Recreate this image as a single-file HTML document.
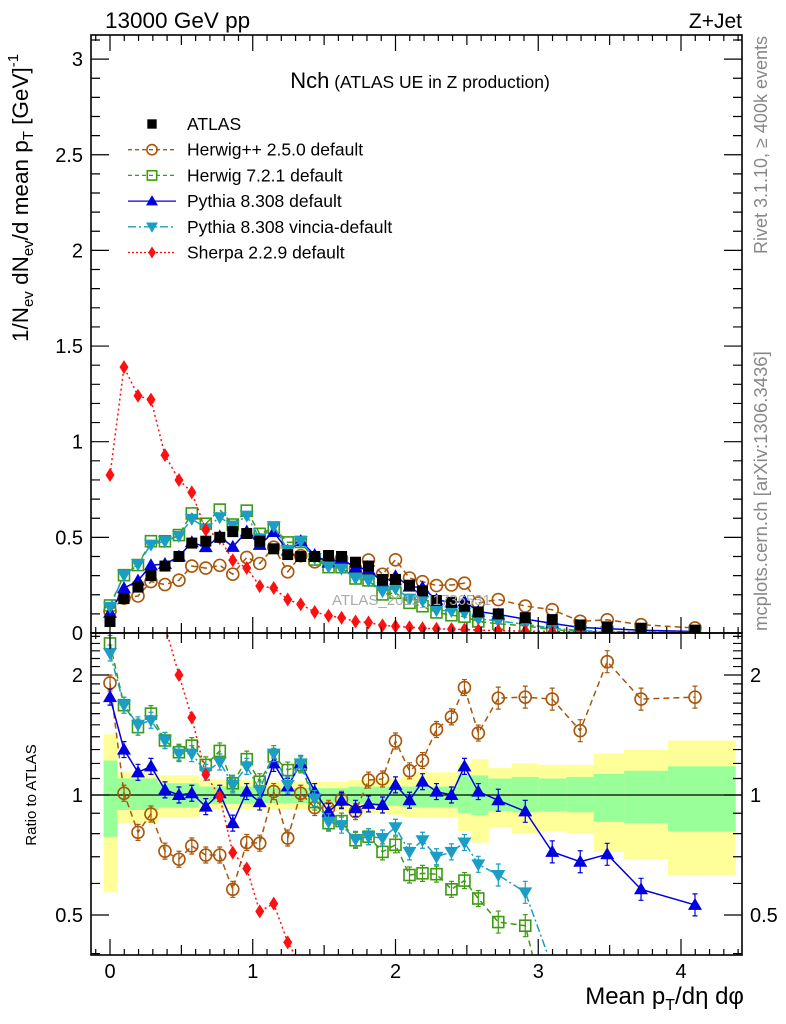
<!DOCTYPE html>
<html><head><meta charset="utf-8"><style>
html,body{margin:0;padding:0;background:#fff;overflow:hidden;width:786px;height:1024px;}
svg{display:block;font-family:"Liberation Sans",sans-serif;}
</style></head><body>
<svg id="chart" width="786" height="1024" viewBox="0 0 786 1024" xmlns="http://www.w3.org/2000/svg">
<defs>
<clipPath id="clipMain"><rect x="91" y="35" width="651" height="598"/></clipPath>
<clipPath id="clipRatio"><rect x="91" y="633" width="651" height="322"/></clipPath>
</defs>
<g id="bands"></g>
<g id="marks"></g>
<g id="axes"></g>
<text x="105" y="28" font-size="22.5">13000 GeV pp</text>
<text x="742" y="28" font-size="21" text-anchor="end">Z+Jet</text>
<text x="420" y="88" text-anchor="middle"><tspan font-size="22">Nch</tspan><tspan font-size="17.5"> (ATLAS UE in Z production)</tspan></text>
<text x="332" y="605" font-size="15" fill="#aaa">ATLAS_2019_I1736531</text>
<text transform="translate(767,36) rotate(-90)" font-size="18" fill="#888" text-anchor="end">Rivet 3.1.10, ≥ 400k events</text>
<text transform="translate(767,631) rotate(-90)" font-size="18.5" fill="#888">mcplots.cern.ch [arXiv:1306.3436]</text>
<text transform="translate(28,198) rotate(-90)" font-size="22.5" text-anchor="middle">1/N<tspan font-size="15" dy="5">ev</tspan><tspan dy="-5"> dN</tspan><tspan font-size="15" dy="5">ev</tspan><tspan dy="-5">/d mean p</tspan><tspan font-size="15" dy="5">T</tspan><tspan dy="-5"> [GeV]</tspan><tspan font-size="15" dy="-10">-1</tspan></text>
<text transform="translate(36,795) rotate(-90)" font-size="15" text-anchor="middle">Ratio to ATLAS</text>
<text x="744" y="1004" font-size="24" text-anchor="end">Mean p<tspan font-size="16" dy="6">T</tspan><tspan dy="-6">/dη dφ</tspan></text>
<g id="legend"></g>
</svg>
<script>
const xVals=[0,0.098,0.196,0.287,0.385,0.483,0.573,0.671,0.769,0.86,0.958,1.049,1.147,1.245,1.336,1.434,1.531,1.622,1.72,1.811,1.909,2.0,2.098,2.189,2.287,2.392,2.483,2.58,2.72,2.909,3.098,3.294,3.483,3.72,4.098];
const atlasVals=[0.06,0.18,0.24,0.30,0.35,0.40,0.47,0.48,0.50,0.53,0.52,0.48,0.44,0.41,0.40,0.40,0.405,0.40,0.37,0.35,0.28,0.28,0.25,0.22,0.17,0.16,0.14,0.11,0.10,0.08,0.07,0.042,0.032,0.025,0.015];
const herwigppRatio=[1.91,1.01,0.806,0.896,0.723,0.69,0.745,0.707,0.707,0.58,0.76,0.757,1.02,0.78,1.01,0.93,0.926,0.975,0.908,1.09,1.097,1.366,1.15,1.22,1.46,1.57,1.86,1.43,1.75,1.76,1.74,1.45,2.16,1.74,1.76];
const herwig7Ratio=[2.4,1.68,1.48,1.6,1.37,1.28,1.33,1.19,1.29,1.07,1.23,1.08,1.25,1.155,1.19,0.96,0.85,0.86,0.77,0.786,0.72,0.75,0.63,0.636,0.633,0.58,0.61,0.55,0.48,0.47,0.25,0.2,0.15,0.15,0.1];
const pythiaRatio=[1.76,1.3,1.14,1.18,1.03,1.0,1.01,0.935,1.01,0.85,1.02,0.96,1.2,1.05,1.2,1.02,0.908,0.968,0.926,0.95,0.944,1.06,0.97,1.08,1.02,1.0,1.18,1.02,0.97,0.91,0.72,0.68,0.71,0.58,0.53];
const vinciaRatio=[2.27,1.68,1.5,1.54,1.37,1.27,1.27,1.14,1.21,1.06,1.18,1.03,1.27,1.06,1.2,0.98,0.857,0.84,0.774,0.786,0.78,0.83,0.72,0.77,0.7,0.72,0.76,0.67,0.63,0.57,0.37,0.3,0.25,0.2,0.15];
const sherpaVals=[0.826,1.39,1.24,1.22,0.93,0.8,0.735,0.54,0.495,0.38,0.34,0.245,0.235,0.175,0.15,0.11,0.09,0.08,0.06,0.055,0.04,0.035,0.03,0.025,0.022,0.02,0.018,0.015,0.012,0.01,0.008,0.006,0.004,0.003,0.002];
const yellowUp=[1.42,1.14,1.14,1.14,1.12,1.12,1.12,1.09,1.09,1.09,1.09,1.08,1.08,1.08,1.08,1.08,1.08,1.08,1.09,1.09,1.09,1.1,1.12,1.14,1.14,1.14,1.2,1.23,1.17,1.2,1.19,1.19,1.27,1.3,1.37];
const yellowDn=[0.57,0.85,0.85,0.85,0.88,0.88,0.88,0.92,0.92,0.92,0.92,0.92,0.92,0.92,0.92,0.92,0.92,0.91,0.9,0.9,0.9,0.89,0.88,0.876,0.876,0.876,0.81,0.76,0.83,0.8,0.81,0.8,0.72,0.69,0.63];
const greenUp=[1.22,1.1,1.1,1.1,1.07,1.07,1.07,1.05,1.05,1.05,1.05,1.04,1.04,1.04,1.04,1.04,1.04,1.04,1.05,1.05,1.05,1.05,1.05,1.05,1.05,1.05,1.12,1.12,1.1,1.11,1.1,1.11,1.13,1.15,1.18];
const greenDn=[0.785,0.917,0.917,0.917,0.93,0.93,0.93,0.95,0.95,0.95,0.95,0.955,0.955,0.955,0.955,0.955,0.955,0.95,0.95,0.95,0.94,0.94,0.93,0.93,0.93,0.93,0.9,0.89,0.91,0.905,0.91,0.905,0.857,0.85,0.81];
const mainTicks=[0,0.5,1,1.5,2,2.5,3];
const mainTickLabels=["0","0.5","1","1.5","2","2.5","3"];
const ratioTicks=[0.5,1,2];
const ratioTickLabels=["0.5","1","2"];
const xTicks=[0,1,2,3,4];
const xTickLabels=["0","1","2","3","4"];

const NS="http://www.w3.org/2000/svg";
const X0=91,X1=742,XMIN=-0.1332,XMAX=4.4272;
const MT=35,MB=633,RT=633,RB=955;
function xs(v){return 110+v*142.75;}
function ym(v){return 633-v*191.3;}
function yr(r){return 795-120*Math.log2(r);}
function el(tag,attrs,parent){const e=document.createElementNS(NS,tag);for(const k in attrs)e.setAttribute(k,attrs[k]);parent.appendChild(e);return e;}

const bands=document.getElementById('bands');
const marks=document.getElementById('marks');
const axes=document.getElementById('axes');
const edges=[-0.045];
for(let i=0;i<xVals.length-1;i++)edges.push((xVals[i]+xVals[i+1])/2);
edges.push(4.38);
for(let i=0;i<xVals.length;i++){
  const a=xs(edges[i]),b=xs(edges[i+1]);
  const y1=el('rect',{x:a,y:yr(yellowUp[i]),width:b-a+0.5,height:yr(yellowDn[i])-yr(yellowUp[i]),fill:'#ffff99'},bands);
  
  
  const g1=el('rect',{x:a,y:yr(greenUp[i]),width:b-a+0.5,height:yr(greenDn[i])-yr(greenUp[i]),fill:'#99ff99'},bands);
  
  
}
const one=el('line',{x1:X0,x2:X1,y1:yr(1),y2:yr(1),stroke:'#000','stroke-width':1.2},bands);



function marker(type,cx,cy,color,parent,s){
  s=s||1;let m;
  if(type==='sq')m=el('rect',{x:cx-5.5*s,y:cy-5.5*s,width:11*s,height:11*s,fill:'#000'},parent);
  else if(type==='circ')m=el('circle',{cx:cx,cy:cy,r:6*s,fill:'none',stroke:color,'stroke-width':1.6},parent);
  else if(type==='osq')m=el('rect',{x:cx-5.5*s,y:cy-5.5*s,width:11*s,height:11*s,fill:'none',stroke:color,'stroke-width':1.6},parent);
  else if(type==='tu')m=el('polygon',{points:`${cx},${cy-7*s} ${cx-7*s},${cy+5*s} ${cx+7*s},${cy+5*s}`,fill:color},parent);
  else if(type==='td')m=el('polygon',{points:`${cx},${cy+7*s} ${cx-7*s},${cy-5*s} ${cx+7*s},${cy-5*s}`,fill:color},parent);
  else if(type==='dia')m=el('polygon',{points:`${cx},${cy-7*s} ${cx-4.5*s},${cy} ${cx},${cy+7*s} ${cx+4.5*s},${cy}`,fill:color},parent);
  return m;
}

const series=[
 {name:'herwigpp',ratio:herwigppRatio,color:'#a8560a',dash:'6,4',mk:'circ'},
 {name:'herwig7',ratio:herwig7Ratio,color:'#3d9a12',dash:'6,4',mk:'osq'},
 {name:'pythia',ratio:pythiaRatio,color:'#0000e0',dash:'',mk:'tu'},
 {name:'vincia',ratio:vinciaRatio,color:'#1a9ec6',dash:'8,3,2,3',mk:'td'},
 {name:'sherpa',main:sherpaVals,color:'#ff1010',dash:'2,3',mk:'dia'}
];
const gMain=el('g',{'clip-path':'url(#clipMain)'},marks);


const gRatio=el('g',{'clip-path':'url(#clipRatio)'},marks);



series.forEach(s=>{
  const mainV=xVals.map((x,i)=>s.main?s.main[i]:s.ratio[i]*atlasVals[i]);
  const ratV=xVals.map((x,i)=>s.ratio?s.ratio[i]:s.main[i]/atlasVals[i]);
  const pm=el('polyline',{points:xVals.map((x,i)=>xs(x)+','+ym(mainV[i])).join(' '),fill:'none',stroke:s.color,'stroke-width':1.5,'stroke-dasharray':s.dash},gMain);
  
  
  const pr=el('polyline',{points:xVals.map((x,i)=>xs(x)+','+yr(ratV[i])).join(' '),fill:'none',stroke:s.color,'stroke-width':1.5,'stroke-dasharray':s.dash},gRatio);
  
  
  xVals.forEach((x,i)=>{
    const m=marker(s.mk,xs(x),ym(mainV[i]),s.color,gMain);
    
    
    const y=yr(ratV[i]);
    if(s.mk!=='dia'){
      const h=i>27?11:8;
      const e=el('path',{d:`M${xs(x)},${y-h}V${y+h}M${xs(x)-2.5},${y-h}h5M${xs(x)-2.5},${y+h}h5`,stroke:s.color,'stroke-width':1.2},gRatio);
      
      
    }
    const r=marker(s.mk,xs(x),y,s.color,gRatio);
    
    
  });
});
xVals.forEach((x,i)=>{
  const m=marker('sq',xs(x),ym(atlasVals[i]),'#000',gMain);
  
  
});

const f1=el('rect',{x:X0,y:MT,width:X1-X0,height:MB-MT,fill:'none',stroke:'#000','stroke-width':1.6},axes);


const f2=el('rect',{x:X0,y:RT,width:X1-X0,height:RB-RT,fill:'none',stroke:'#000','stroke-width':1.6},axes);


let d='';
for(let k=-1;k<=44;k++){const v=k/10;if(v<XMIN||v>XMAX)continue;const px=xs(v);const big=(k%10===0);const L=big?16:(k%5===0?10:6);
  d+=`M${px},${MB}v${-L}M${px},${MT}v${L}M${px},${RT}v${L}M${px},${RB}v${-L}`;}
for(let k=0;k<=31;k++){const v=k/10;const py=ym(v);const big=(k%5===0);const L=big?18:9;d+=`M${X0},${py}h${L}M${X1},${py}h${-L}`;}
const rt=[0.4,0.5,0.6,0.7,0.8,0.9,1,1.1,1.2,1.3,1.4,1.5,1.6,1.7,1.8,1.9,2,2.1,2.2,2.3,2.4,2.5];
rt.forEach(r=>{const py=yr(r);if(py<RT||py>RB)return;const big=(r===0.5||r===1||r===2);const L=big?18:9;d+=`M${X0},${py}h${L}M${X1},${py}h${-L}`;});
const tk=el('path',{d:d,stroke:'#000','stroke-width':1.2,fill:'none'},axes);


mainTicks.forEach((v,i)=>{const t=el('text',{x:83,y:ym(v)+7,'font-size':20,'text-anchor':'end'},axes);t.textContent=mainTickLabels[i];
  
  });
ratioTicks.forEach((v,i)=>{
  const t=el('text',{x:83,y:yr(v)+7,'font-size':20,'text-anchor':'end'},axes);t.textContent=ratioTickLabels[i];
  
  
  const t2=el('text',{x:750,y:yr(v)+7,'font-size':20},axes);t2.textContent=ratioTickLabels[i];
  
  });
xTicks.forEach((v,i)=>{const t=el('text',{x:xs(v),y:978,'font-size':20,'text-anchor':'middle'},axes);t.textContent=xTickLabels[i];
  
  });

const leg=document.getElementById('legend');
const legItems=[['sq','#000','','ATLAS','legend-atlas'],['circ','#a8560a','4,3','Herwig++ 2.5.0 default','legend-herwigpp'],['osq','#3d9a12','4,3','Herwig 7.2.1 default','legend-herwig7'],['tu','#0000e0','','Pythia 8.308 default','legend-pythia'],['td','#1a9ec6','8,3,2,3','Pythia 8.308 vincia-default','legend-vincia'],['dia','#ff1010','2,2','Sherpa 2.2.9 default','legend-sherpa']];
legItems.forEach((it,i)=>{
  const y=124+i*25.7;
  const g=el('g',{},leg);
  
  
  if(i>0)el('line',{x1:128,x2:176,y1:y,y2:y,stroke:it[1],'stroke-width':1.3,'stroke-dasharray':it[2]},g);
  marker(it[0],152,y,it[1],g,0.85);
  const t=el('text',{x:187,y:y+6,'font-size':17.5},g);t.textContent=it[3];
});
</script>
</body></html>
